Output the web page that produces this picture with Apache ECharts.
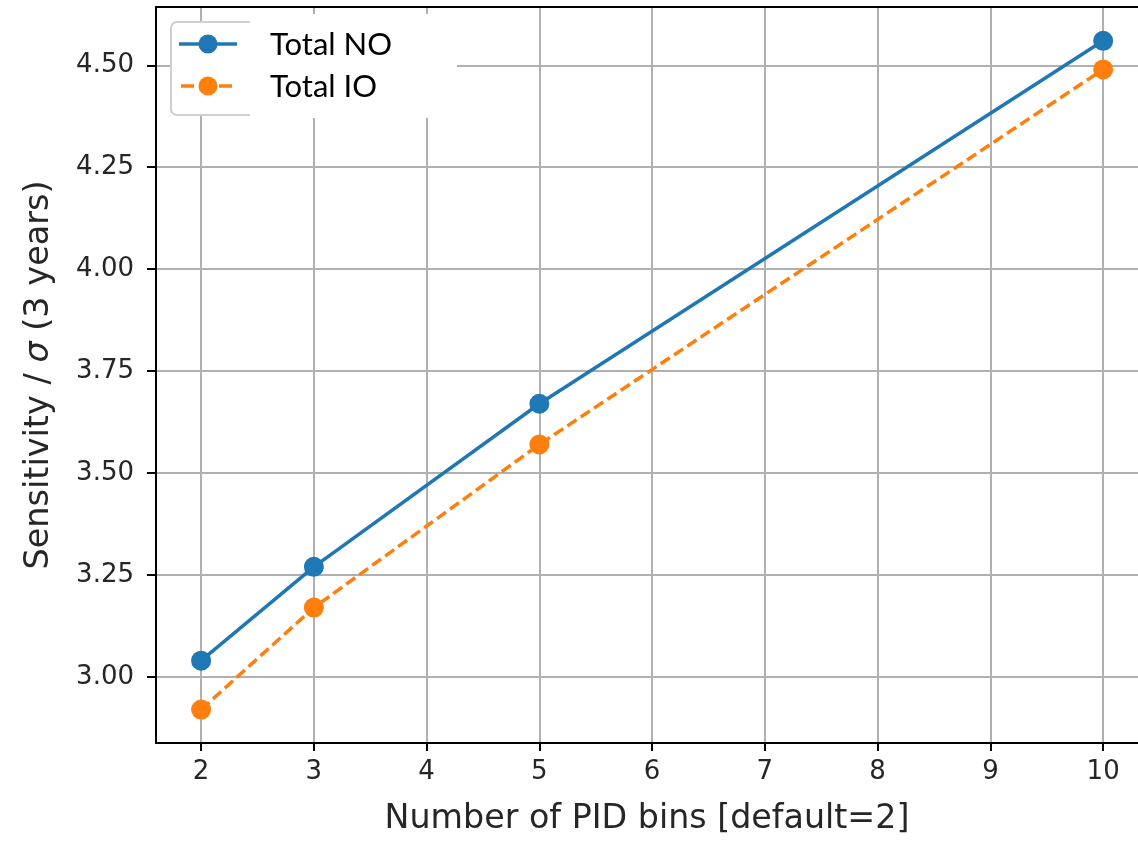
<!DOCTYPE html>
<html>
<head>
<meta charset="utf-8">
<script src="https://cdn.jsdelivr.net/npm/echarts@6/dist/echarts.min.js"></script>
<style>html,body{margin:0;padding:0;background:#fff;}#c{width:1138px;height:841px;}</style>
</head>
<body>
<div id="c"></div>
<script>
const pidBins = [2, 3, 5, 10];
const totalNO = [3.04, 3.27, 3.67, 4.56];
const totalIO = [2.92, 3.17, 3.57, 4.49];
const xTicks = [2, 3, 4, 5, 6, 7, 8, 9, 10];
const yTicks = [3.00, 3.25, 3.50, 3.75, 4.00, 4.25, 4.50];
const seriesNames = ['Total NO', 'Total IO'];
const seriesColors = ['#1f77b4', '#ff7f0e'];
const xLabel = 'Number of PID bins [default=2]';
const yLabel = 'Sensitivity / {i|σ} (3 years)';

const chart = echarts.init(document.getElementById('c'));
const font = 'DejaVu Sans';
const xMin = 1.6, xMax = 10.309;
const lineAxis = {color: '#000', width: 2};
chart.setOption({
  animation: false,
  backgroundColor: '#fff',
  grid: {left: 156, top: 7, right: 0, bottom: 95, show: false},
  xAxis: [{
    type: 'value', min: xMin, max: xMax, position: 'bottom',
    name: xLabel, nameLocation: 'middle', nameGap: 60,
    nameTextStyle: {fontFamily: font, fontSize: 33.3, color: '#262626'},
    axisLine: {show: true, onZero: false, lineStyle: lineAxis},
    axisTick: {show: true, length: 8, lineStyle: lineAxis, customValues: xTicks},
    axisLabel: {fontFamily: font, fontSize: 26, color: '#262626', margin: 16, customValues: xTicks, formatter: v => String(v)},
    splitLine: {show: true, lineStyle: {color: '#b0b0b0', width: 2}}
  }, {
    type: 'value', min: xMin, max: xMax, position: 'top',
    axisLine: {show: true, onZero: false, lineStyle: lineAxis},
    axisTick: {show: false}, axisLabel: {show: false}, splitLine: {show: false}
  }],
  yAxis: {
    type: 'value', min: 2.838, max: 4.643,
    name: yLabel, nameLocation: 'middle', nameGap: 100,
    nameTextStyle: {fontFamily: font, fontSize: 33.5, color: '#262626',
      rich: {i: {fontFamily: font, fontSize: 33.5, fontStyle: 'italic', color: '#262626'}}},
    axisLine: {show: true, onZero: false, lineStyle: lineAxis},
    axisTick: {show: true, length: 9, lineStyle: lineAxis, customValues: yTicks},
    axisLabel: {fontFamily: font, fontSize: 26, color: '#262626', margin: 22, customValues: yTicks, formatter: v => v.toFixed(2)},
    splitLine: {show: true, lineStyle: {color: '#b0b0b0', width: 2}}
  },
  graphic: [
    {type: 'rect', z: 5, shape: {x: 171, y: 22, width: 140, height: 93, r: 6}, style: {fill: '#fff', stroke: '#d0d0d0', lineWidth: 2}},
    {type: 'rect', z: 6, shape: {x: 250, y: 14, width: 207, height: 104}, style: {fill: '#fff', stroke: null}},
    {type: 'line', z: 7, shape: {x1: 179, y1: 44, x2: 237, y2: 44}, style: {stroke: seriesColors[0], lineWidth: 3.5}},
    {type: 'circle', z: 8, shape: {cx: 208, cy: 44, r: 9.5}, style: {fill: seriesColors[0]}},
    {type: 'line', z: 7, shape: {x1: 181, y1: 86, x2: 237, y2: 86}, style: {stroke: seriesColors[1], lineWidth: 3.5, lineDash: [13, 6]}},
    {type: 'circle', z: 8, shape: {cx: 208, cy: 86, r: 9.5}, style: {fill: seriesColors[1]}},
    {type: 'text', z: 8, x: 270, y: 45, style: {text: seriesNames[0], fontFamily: 'Lato', fontSize: 31, fill: '#000', verticalAlign: 'middle'}},
    {type: 'text', z: 8, x: 270, y: 87, style: {text: seriesNames[1], fontFamily: 'Lato', fontSize: 31, fill: '#000', verticalAlign: 'middle'}}
  ],
  series: [
    {name: seriesNames[0], type: 'line', data: pidBins.map((x, i) => [x, totalNO[i]]),
     symbol: 'circle', symbolSize: 20, color: seriesColors[0],
     lineStyle: {width: 3.5, color: seriesColors[0]}, itemStyle: {color: seriesColors[0]}},
    {name: seriesNames[1], type: 'line', data: pidBins.map((x, i) => [x, totalIO[i]]),
     symbol: 'circle', symbolSize: 20, color: seriesColors[1],
     lineStyle: {width: 3.5, color: seriesColors[1], type: [11, 5]}, itemStyle: {color: seriesColors[1]}}
  ]
});
</script>
</body>
</html>
